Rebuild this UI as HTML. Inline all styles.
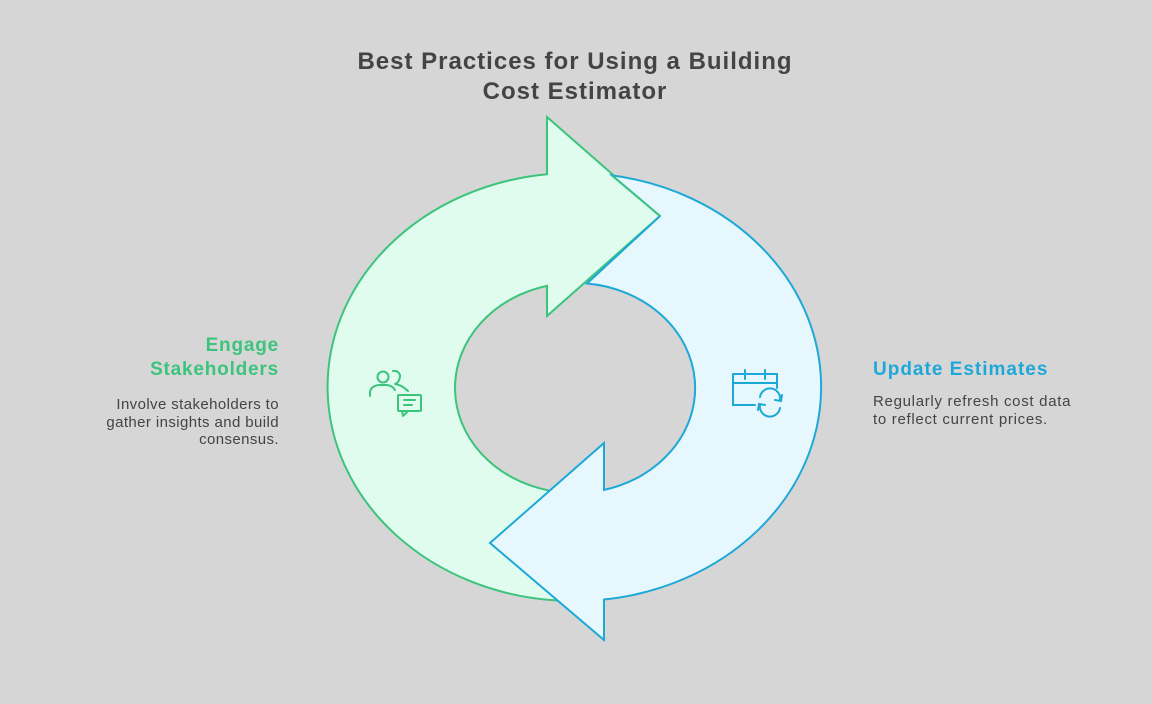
<!DOCTYPE html>
<html><head><meta charset="utf-8"><style>
html,body{margin:0;padding:0;background:#d6d6d6;}
body{width:1152px;height:704px;position:relative;overflow:hidden;font-family:"Liberation Sans",Arial,sans-serif;}
.t{position:absolute;}
</style></head><body>
<svg width="1152" height="704" style="position:absolute;left:0;top:0">
<path d="M547,174.2 A246,214 0 0 0 556,600.4 L548,490.3 A120,105 0 0 1 547,285.9 L547,316 L660,216 L547,117 Z" fill="#e0fcef" stroke="#3cc47c" stroke-width="2" stroke-linejoin="miter"/>
<path d="M612,175.4 A246,214 0 0 1 604,599.5 L604,640 L490,543 L604,443 L604,489.9 A120,105 0 0 0 587,283.5 L660,216 Z" fill="#e6f8fe" stroke="#1ea8d8" stroke-width="2"/>
<path d="M612,175.4 L660,216" stroke="#3cc47c" stroke-width="2"/>
<g fill="none" stroke="#3cc47c" stroke-width="2" stroke-linecap="round" stroke-linejoin="round">
<circle cx="383" cy="377" r="5.5"/>
<path d="M370,396 L370,392 Q371,386 379,385 L387,385 Q393,386 395,390"/>
<path d="M393,371 Q398,370 400,375 Q400,382 395,384 Q402,385 408,391"/>
<rect x="398" y="395" width="23" height="16" rx="1"/>
<path d="M402,411 L403,416 L408,411"/>
<path d="M404,400 L415,400 M404,405 L412,405"/>
</g>
<g fill="none" stroke="#1ea8d8" stroke-width="2" stroke-linecap="round">
<path d="M755,405 L733,405 L733,374 L777,374 L777,388"/>
<path d="M733,383 L777,383"/>
<path d="M745,370 L745,379 M765,370 L765,379"/>
<path d="M760,397 A10,10 0 0 1 780,400"/>
<path d="M782,395 L781,401 L775,400"/>
<path d="M780,408 A10,10 0 0 1 760,405"/>
<path d="M758,410 L759,404 L765,405"/>
</g>
</svg>
<div class="t" style="left:275px;width:600px;top:47px;text-align:center;font-weight:bold;font-size:24px;letter-spacing:1px;line-height:30px;color:#444">Best Practices for Using a Building<br>Cost Estimator</div>
<div class="t" style="right:873px;top:334px;text-align:right;font-weight:bold;font-size:19px;letter-spacing:0.8px;line-height:24px;color:#3cc47c">Engage<br>Stakeholders</div>
<div class="t" style="right:873px;top:396px;text-align:right;font-size:15px;letter-spacing:0.4px;line-height:17.5px;color:#444">Involve stakeholders to<br>gather insights and build<br>consensus.</div>
<div class="t" style="left:873px;top:358px;font-weight:bold;font-size:19px;letter-spacing:1px;line-height:24px;color:#1ea8d8">Update Estimates</div>
<div class="t" style="left:873px;top:393px;font-size:15px;letter-spacing:0.7px;line-height:17.5px;color:#444">Regularly refresh cost data<br>to reflect current prices.</div>
</body></html>
